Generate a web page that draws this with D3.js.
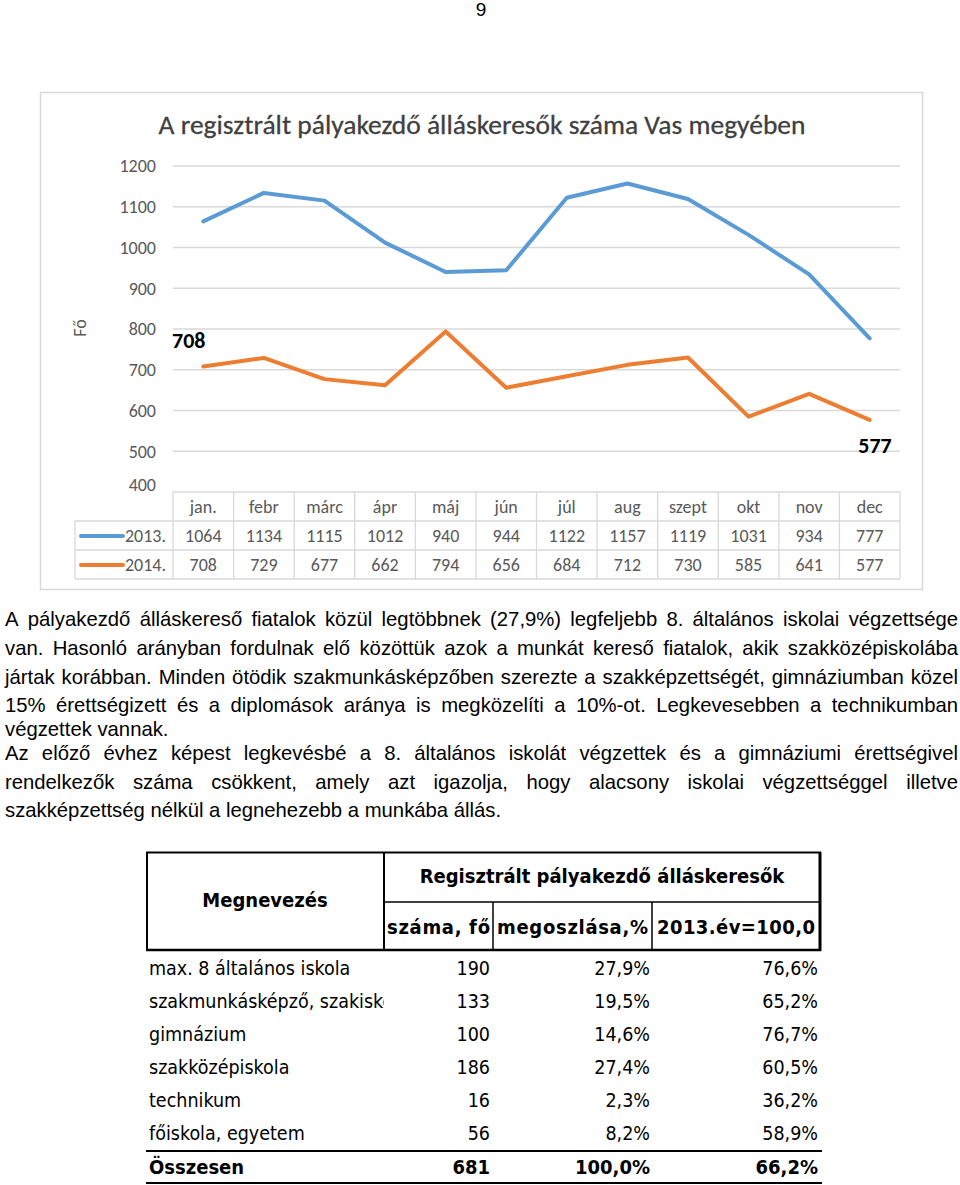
<!DOCTYPE html>
<html><head><meta charset="utf-8">
<script src="https://cdn.jsdelivr.net/npm/d3@7"></script>
<style>body{margin:0;background:#fff}svg{display:block}</style>
</head><body>
<script>
const months = ["jan.","febr","márc","ápr","máj","jún","júl","aug","szept","okt","nov","dec"];
const series2013 = [1064,1134,1115,1012,940,944,1122,1157,1119,1031,934,777];
const series2014 = [708,729,677,662,794,656,684,712,730,585,641,577];
const seriesNames = ["2013.","2014."];
const yTicks = [400,500,600,700,800,900,1000,1100,1200];
const chartTitle = "A regisztrált pályakezdő álláskeresők száma Vas megyében";
const yTitle = "Fő";
const paraLines = [
 ["A pályakezdő álláskereső fiatalok közül legtöbbnek (27,9%) legfeljebb 8. általános iskolai végzettsége", true],
 ["van. Hasonló arányban fordulnak elő közöttük azok a munkát kereső fiatalok, akik szakközépiskolába", true],
 ["jártak korábban. Minden ötödik szakmunkásképzőben szerezte a szakképzettségét, gimnáziumban közel", true],
 ["15% érettségizett és a diplomások aránya is megközelíti a 10%-ot. Legkevesebben a technikumban", true],
 ["végzettek vannak.", false],
 ["Az előző évhez képest legkevésbé a 8. általános iskolát végzettek és a gimnáziumi érettségivel", true],
 ["rendelkezők száma csökkent, amely azt igazolja, hogy alacsony iskolai végzettséggel illetve", true],
 ["szakképzettség nélkül a legnehezebb a munkába állás.", false]
];
const tblCategories = ["max. 8 általános iskola","szakmunkásképző, szakiskola","gimnázium","szakközépiskola","technikum","főiskola, egyetem"];
const tblCount = ["190","133","100","186","16","56"];
const tblShare = ["27,9%","19,5%","14,6%","27,4%","2,3%","8,2%"];
const tblIndex = ["76,6%","65,2%","76,7%","60,5%","36,2%","58,9%"];
const tblTotal = ["Összesen","681","100,0%","66,2%"];
const tblHead = ["Megnevezés","Regisztrált pályakezdő álláskeresők","száma, fő","megoszlása,%","2013.év=100,0"];

const W=960,H=1185;
const svg=d3.select("body").append("svg").attr("width",W).attr("height",H);
const chartFont="Carlito, Lato, 'Open Sans', sans-serif";
const gray="#595959", grid="#d9d9d9";
const c2013="#5b9bd5", c2014="#ed7d31";

// page number
svg.append("text").attr("x",481).attr("y",16).attr("text-anchor","middle")
 .attr("font-family","Liberation Sans, Arial").attr("font-size",19).text("9");

// chart border
svg.append("rect").attr("x",40.5).attr("y",92.5).attr("width",882).attr("height",497)
 .attr("fill","#fff").attr("stroke",grid).attr("stroke-width",1.5);

svg.append("text").attr("x",482).attr("y",134).attr("text-anchor","middle")
 .attr("font-family",chartFont).attr("font-size",27.5).attr("fill","#404040")
 .attr("stroke","#404040").attr("stroke-width",0.3).text(chartTitle);

const x=d3.scaleBand().domain(months).range([173,900]);
const y=d3.scaleLinear().domain([400,1200]).range([492,166]);
const cx=d=>x(d)+x.bandwidth()/2;

// gridlines
svg.append("g").selectAll("line").data(yTicks.filter(t=>t>400)).join("line")
 .attr("x1",173).attr("x2",900).attr("y1",d=>y(d)).attr("y2",d=>y(d))
 .attr("stroke",grid).attr("stroke-width",1.3);
// y axis labels
const yAxis=d3.axisLeft(y).tickValues(yTicks).tickSize(0).tickPadding(0).tickFormat(d3.format("d"));
const ga=svg.append("g").attr("transform","translate(156,0)").call(yAxis);
ga.select(".domain").remove();
ga.selectAll("text").attr("font-family",chartFont).attr("font-size",18).attr("fill",gray);
ga.selectAll(".tick").filter(d=>d===400).select("text").attr("dy","-0.1em");

svg.append("text").attr("transform","translate(86,328) rotate(-90)").attr("text-anchor","middle")
 .attr("font-family",chartFont).attr("font-size",18).attr("fill",gray).text(yTitle);

// lines
const line=d3.line().x((d,i)=>cx(months[i])).y(d=>y(d));
[[series2013,c2013],[series2014,c2014]].forEach(([s,c])=>{
 svg.append("path").datum(s).attr("d",line).attr("fill","none").attr("stroke",c)
  .attr("stroke-width",4).attr("stroke-linejoin","round").attr("stroke-linecap","round");
});

// data labels
svg.append("text").attr("x",x(months[0])-1).attr("y",y(series2014[0])-18)
 .attr("font-family",chartFont).attr("font-size",22).attr("font-weight","bold").attr("fill","#000").text(series2014[0]);
svg.append("text").attr("x",cx(months[11])+22).attr("y",y(series2014[11])+33).attr("text-anchor","end")
 .attr("font-family",chartFont).attr("font-size",22).attr("font-weight","bold").attr("fill","#000").text(series2014[11]);

// data table
const tY=[492,521,550,579];
const tg=svg.append("g").attr("stroke",grid).attr("stroke-width",1.3);
tg.append("line").attr("x1",173).attr("x2",900).attr("y1",tY[0]).attr("y2",tY[0]);
[1,2,3].forEach(i=>tg.append("line").attr("x1",75).attr("x2",900).attr("y1",tY[i]).attr("y2",tY[i]));
tg.append("line").attr("x1",75).attr("x2",75).attr("y1",tY[1]).attr("y2",tY[3]);
months.forEach(m=>tg.append("line").attr("x1",x(m)).attr("x2",x(m)).attr("y1",tY[0]).attr("y2",tY[3]));
tg.append("line").attr("x1",900).attr("x2",900).attr("y1",tY[0]).attr("y2",tY[3]);

const tt=svg.append("g").attr("font-family",chartFont).attr("font-size",18).attr("fill",gray).attr("text-anchor","middle");
tt.selectAll(".m").data(months).join("text").attr("x",d=>cx(d)).attr("y",513).text(d=>d);
[series2013,series2014].forEach((s,k)=>{
 tt.append("g").selectAll("text").data(s).join("text").attr("x",(d,i)=>cx(months[i])).attr("y",542+k*29).text(d=>d);
});
seriesNames.forEach((n,k)=>{
 svg.append("line").attr("x1",81).attr("x2",123).attr("y1",536+k*29).attr("y2",536+k*29)
  .attr("stroke",k?c2014:c2013).attr("stroke-width",4).attr("stroke-linecap","round");
 svg.append("text").attr("x",125).attr("y",542+k*29).attr("font-family",chartFont).attr("font-size",18).attr("fill",gray).text(n);
});

// paragraph, justified
const pFont="'Liberation Sans', Arial, sans-serif";
const pSize=20.3;
const pBase=[626,655,684,712,736,760,789,817];
const meas=svg.append("text").attr("font-family",pFont).attr("font-size",pSize);
paraLines.forEach(([t,just],i)=>{
 const words=t.split(" ");
 const g=svg.append("text").attr("font-family",pFont).attr("font-size",pSize).attr("fill","#000");
 if(!just){g.attr("x",5).attr("y",pBase[i]).text(t);return;}
 const ws=words.map(w=>{meas.text(w);return meas.node().getComputedTextLength();});
 const tot=d3.sum(ws);const gap=(958-5-tot)/(words.length-1);
 let xx=5;
 words.forEach((w,j)=>{g.append("tspan").attr("x",xx).attr("y",pBase[i]).text(w);xx+=ws[j]+gap;});
});
meas.remove();

// bottom table
const tf="'DejaVu Sans Condensed', Tahoma, 'DejaVu Sans', sans-serif";
const L=146,c1=384,c2=493,c3=652,R=820;
const bt=svg.append("g").attr("stroke","#000");
const hl=(x1,x2,yy,w)=>bt.append("line").attr("x1",x1).attr("x2",x2).attr("y1",yy).attr("y2",yy).attr("stroke-width",w);
const vl=(xx,y1,y2,w)=>bt.append("line").attr("x1",xx).attr("x2",xx).attr("y1",y1).attr("y2",y2).attr("stroke-width",w);
hl(L,R+1,852.5,2);hl(c1,R,902,1.5);hl(L,R+1,950,2.5);
vl(L+1,852,951,2);vl(c1,852,951,2);vl(c2,902,951,1.5);vl(c3,902,951,1.5);vl(R,852,951,3);
hl(L,R+2,1151,2.2);hl(L,R+2,1183,2.2);

const hg=svg.append("g").attr("font-family",tf).attr("font-size",20).attr("font-weight","bold").attr("text-anchor","middle");
hg.append("text").attr("x",(L+c1)/2).attr("y",907).text(tblHead[0]);
hg.append("text").attr("x",(c1+R)/2).attr("y",883).text(tblHead[1]);
hg.append("text").attr("x",(c1+c2)/2).attr("y",934).attr("textLength",c2-c1-6).text(tblHead[2]);
hg.append("text").attr("x",(c2+c3)/2).attr("y",934).attr("textLength",c3-c2-8).text(tblHead[3]);
hg.append("text").attr("x",(c3+R)/2).attr("y",934).attr("textLength",R-c3-10).text(tblHead[4]);

svg.append("clipPath").attr("id","nameclip").append("rect").attr("x",L).attr("y",950).attr("width",c1-L).attr("height",240);
const rg=svg.append("g").attr("font-family",tf).attr("font-size",19.5);
tblCategories.forEach((n,i)=>{
 const yy=975+i*33;
 rg.append("text").attr("x",149).attr("y",yy).attr("clip-path","url(#nameclip)").text(n);
 rg.append("text").attr("x",490).attr("y",yy).attr("text-anchor","end").text(tblCount[i]);
 rg.append("text").attr("x",650).attr("y",yy).attr("text-anchor","end").text(tblShare[i]);
 rg.append("text").attr("x",818).attr("y",yy).attr("text-anchor","end").text(tblIndex[i]);
});
const ty=1174;
const tg2=svg.append("g").attr("font-family",tf).attr("font-size",20).attr("font-weight","bold");
tg2.append("text").attr("x",149).attr("y",ty).text(tblTotal[0]);
tg2.append("text").attr("x",490).attr("y",ty).attr("text-anchor","end").text(tblTotal[1]);
tg2.append("text").attr("x",650).attr("y",ty).attr("text-anchor","end").text(tblTotal[2]);
tg2.append("text").attr("x",818).attr("y",ty).attr("text-anchor","end").text(tblTotal[3]);
</script>
</body></html>
